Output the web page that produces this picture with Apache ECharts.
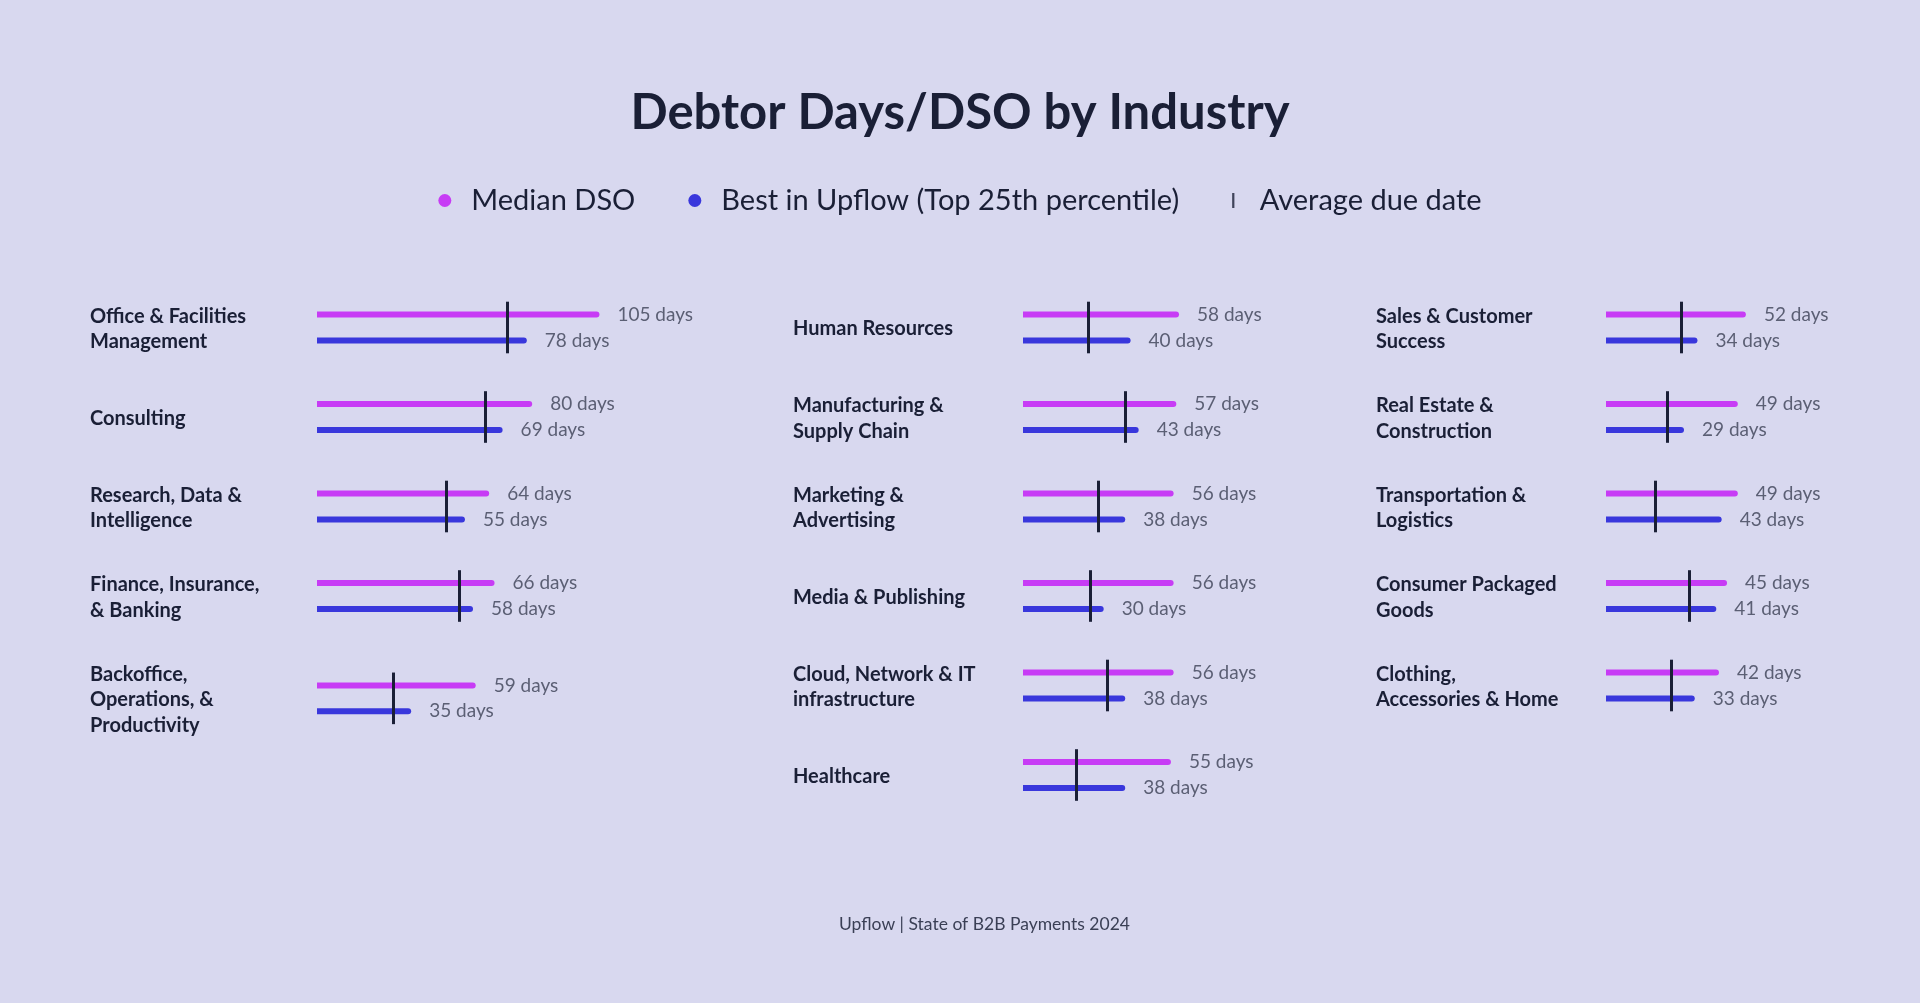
<!DOCTYPE html>
<html>
<head>
<meta charset="utf-8">
<script src="https://cdn.jsdelivr.net/npm/echarts@6/dist/echarts.min.js"></script>
<style>
html,body{margin:0;padding:0;background:#d8d8ef;}
#chart{width:1920px;height:1003px;}
</style>
</head>
<body>
<div id="chart"></div>
<script>
// ---------- DATA ----------
const chartTitle = 'Debtor Days/DSO by Industry';
const footerText = 'Upflow | State of B2B Payments 2024';
const seriesNames = ['Median DSO', 'Best in Upflow (Top 25th percentile)', 'Average due date'];
const industries = [
  'Office & Facilities\nManagement', 'Consulting', 'Research, Data &\nIntelligence',
  'Finance, Insurance,\n& Banking', 'Backoffice,\nOperations, &\nProductivity',
  'Human Resources', 'Manufacturing &\nSupply Chain', 'Marketing &\nAdvertising',
  'Media & Publishing', 'Cloud, Network & IT\ninfrastructure', 'Healthcare',
  'Sales & Customer\nSuccess', 'Real Estate &\nConstruction', 'Transportation &\nLogistics',
  'Consumer Packaged\nGoods', 'Clothing,\nAccessories & Home'
];
const medianDSO = [105, 80, 64, 66, 59, 58, 57, 56, 56, 56, 55, 52, 49, 49, 45, 42];
const bestDSO   = [78, 69, 55, 58, 35, 40, 43, 38, 30, 38, 38, 34, 29, 43, 41, 33];
const avgDueDate = [70.6, 62.4, 48.2, 52.9, 28.5, 24.4, 38.0, 28.0, 25.0, 31.5, 19.7, 27.9, 22.6, 18.3, 30.9, 24.4];
const unitSuffix = ' days';

// ---------- LAYOUT / STYLE ----------
const columnSizes = [5, 6, 5];
const labelX = [90, 793, 1376];
const barX = [317, 1023, 1606];
const pxPerDay = 2.69;
const xMax = 110;
const lineH = 25.7;
const rowGap = 38.1;
const firstTop = 301.8;
const gridH = 51.6;
const FONT = 'Lato';
const pink = '#c73cf5';
const blue = '#3937dc';
const ink = '#1a1f36';
const grey = '#5b5f74';

const grids = [], xAxes = [], yAxes = [], series = [], graphics = [];
let idx = 0;
columnSizes.forEach((n, col) => {
  let y = firstTop;
  for (let r = 0; r < n; r++, idx++) {
    const lines = industries[idx].split('\n').length;
    const h = Math.max(lines, 2) * lineH;
    const center = y + h / 2;
    y += h + rowGap;
    const g = grids.length;
    grids.push({ left: barX[col], top: center - gridH / 2, width: xMax * pxPerDay, height: gridH });
    xAxes.push({ gridIndex: g, type: 'value', min: 0, max: xMax, show: false, splitLine: { show: false } });
    yAxes.push({ gridIndex: g, type: 'category', data: ['m', 'b'], inverse: true, show: false });
    const lbl = {
      show: true, position: 'right', distance: 18,
      formatter: p => p.value + unitSuffix,
      fontFamily: FONT, fontSize: 19, color: grey
    };
    series.push({
      name: seriesNames[0], type: 'bar', xAxisIndex: g, yAxisIndex: g,
      data: [medianDSO[idx], '-'], barWidth: 6, barGap: '-100%',
      itemStyle: { color: pink, borderRadius: [0, 3, 3, 0] }, label: lbl
    });
    series.push({
      name: seriesNames[1], type: 'bar', xAxisIndex: g, yAxisIndex: g,
      data: ['-', bestDSO[idx]], barWidth: 6, barGap: '-100%',
      itemStyle: { color: blue, borderRadius: [0, 3, 3, 0] }, label: lbl
    });
    series.push({
      name: seriesNames[2], type: 'scatter', xAxisIndex: g, yAxisIndex: g,
      data: [], itemStyle: { color: ink },
      markLine: {
        silent: true, symbol: ['none', 'none'], label: { show: false },
        lineStyle: { color: ink, width: 3, type: 'solid' },
        data: [{ xAxis: avgDueDate[idx] }]
      }
    });
    graphics.push({
      type: 'text', x: labelX[col], y: center + 1.5,
      style: {
        text: industries[idx], fill: ink, fontFamily: FONT, fontWeight: 'bold', fontSize: 20,
        lineHeight: lineH, verticalAlign: 'middle', align: 'left'
      }
    });
  }
});
graphics.push({
  type: 'text', x: 839, y: 924,
  style: { text: footerText, fill: '#3a3f55', fontFamily: FONT, fontSize: 17.5, verticalAlign: 'middle' }
});

const chart = echarts.init(document.getElementById('chart'));
chart.setOption({
  backgroundColor: '#d8d8ef',
  animation: false,
  title: {
    text: chartTitle, left: 'center', top: 84,
    textStyle: { fontFamily: FONT, fontSize: 49, fontWeight: 'bold', color: ink }
  },
  legend: {
    top: 181, left: 'center', itemGap: 53, itemWidth: 13, itemHeight: 15,
    textStyle: { fontFamily: FONT, fontSize: 29, color: ink, padding: [0, 0, 0, 15] },
    data: [
      { name: seriesNames[0], icon: 'circle' },
      { name: seriesNames[1], icon: 'circle' },
      { name: seriesNames[2], icon: 'path://M0,0L3,0L3,20L0,20Z' }
    ],
    selectedMode: false
  },
  grid: grids, xAxis: xAxes, yAxis: yAxes, series: series, graphic: graphics
});
</script>
</body>
</html>
